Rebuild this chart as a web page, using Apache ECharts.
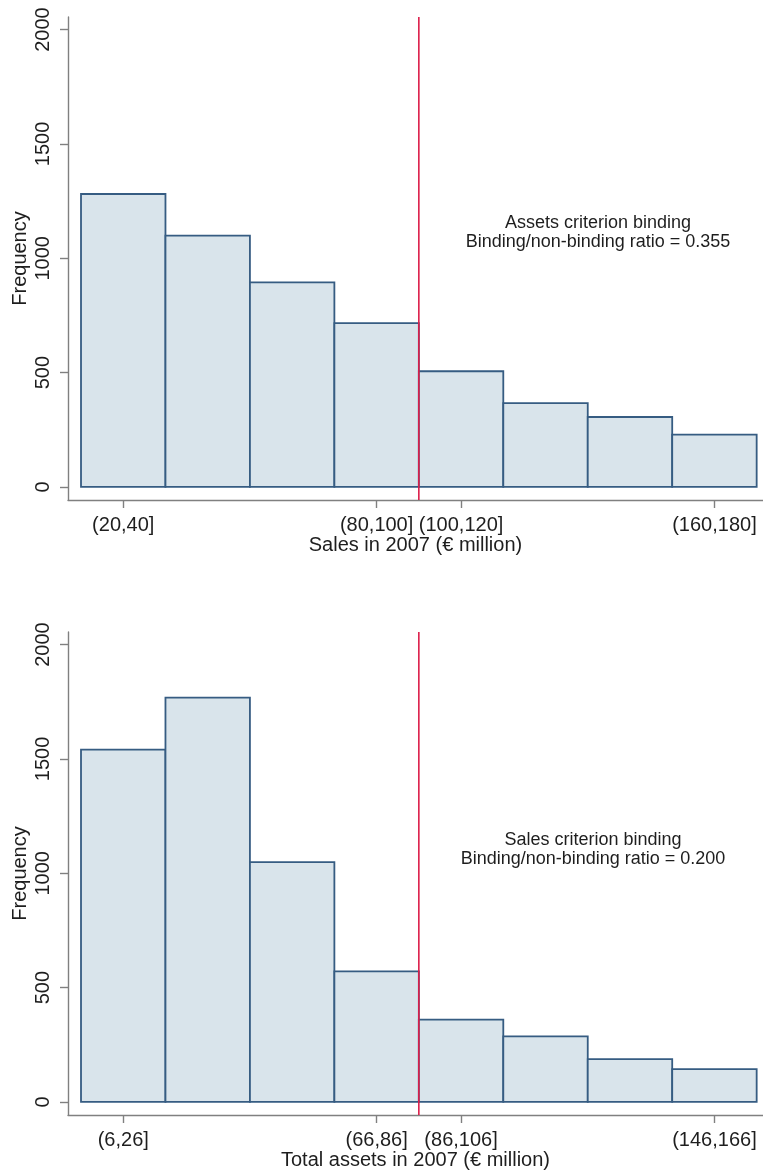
<!DOCTYPE html>
<html>
<head>
<meta charset="utf-8">
<script src="https://cdn.jsdelivr.net/npm/echarts@6/dist/echarts.min.js"></script>
<style>
  html, body { margin: 0; padding: 0; background: #ffffff; }
  #chart { width: 763px; height: 1171px; }
</style>
</head>
<body>
<div id="chart"></div>
<script>
// Histogram bins (20-unit wide) and frequencies for the two panels
const salesBins = ['(20,40]', '(40,60]', '(60,80]', '(80,100]', '(100,120]', '(120,140]', '(140,160]', '(160,180]'];
const salesFreq = [1281, 1099, 895, 716, 506, 367, 306, 229];

const assetsBins = ['(6,26]', '(26,46]', '(46,66]', '(66,86]', '(86,106]', '(106,126]', '(126,146]', '(146,166]'];
const assetsFreq = [1541, 1768, 1049, 571, 360, 287, 187, 144];

// Bins whose labels are printed on the x axis
const labelledBins = [0, 3, 4, 7];
// Frequency ticks
const yTicks = [0, 500, 1000, 1500, 2000];
// Threshold sits on the edge between the 4th and 5th bins
const thresholdEdge = 4;

const salesNote = ['Assets criterion binding', 'Binding/non-binding ratio = 0.355'];
const assetsNote = ['Sales criterion binding', 'Binding/non-binding ratio = 0.200'];

const FONT = 'Liberation Sans, Arial, sans-serif';
const TEXT = '#1e1e1e';
const AXIS = '#808080';
const FILL = '#d9e4eb';
const EDGE = '#365c82';
const RED = '#dc1e4a';

const X_MIN = -0.154, X_MAX = 8.075;
const Y_MIN = -57, Y_MAX = 2055;

function xAxisFor(gridIndex, bins, title) {
  const tickVals = labelledBins.map(i => i + 0.5);
  return {
    type: 'value', gridIndex, min: X_MIN, max: X_MAX,
    axisLine: { onZero: false, lineStyle: { color: AXIS, width: 1.4 } },
    axisTick: { customValues: tickVals, length: 8, lineStyle: { color: AXIS, width: 1.4 } },
    axisLabel: {
      customValues: tickVals, margin: 15, fontSize: 20, fontFamily: FONT, color: TEXT,
      formatter: v => bins[Math.round(v - 0.5)]
    },
    splitLine: { show: false },
    name: title, nameLocation: 'middle', nameGap: 35, nameMoveOverlap: false,
    nameTextStyle: { fontSize: 20, fontFamily: FONT, color: TEXT }
  };
}

function yAxisFor(gridIndex) {
  return {
    type: 'value', gridIndex, min: Y_MIN, max: Y_MAX,
    axisLine: { show: true, onZero: false, lineStyle: { color: AXIS, width: 1.4 } },
    axisTick: { show: true, customValues: yTicks, length: 8, lineStyle: { color: AXIS, width: 1.4 } },
    axisLabel: {
      customValues: yTicks, rotate: 90, margin: 15, fontSize: 20, fontFamily: FONT, color: TEXT,
      formatter: v => String(v)
    },
    splitLine: { show: false },
    name: 'Frequency', nameLocation: 'middle', nameGap: 38, nameMoveOverlap: false,
    nameTextStyle: { fontSize: 20, fontFamily: FONT, color: TEXT }
  };
}

function histogramSeries(idx, freq) {
  return {
    type: 'custom', xAxisIndex: idx, yAxisIndex: idx,
    data: freq.map((f, i) => [i, f]),
    encode: { x: 0, y: 1 },
    renderItem: (params, api) => {
      const i = api.value(0);
      const p0 = api.coord([i, 0]);
      const p1 = api.coord([i + 1, api.value(1)]);
      return {
        type: 'rect',
        shape: { x: p0[0], y: p1[1], width: p1[0] - p0[0], height: p0[1] - p1[1] },
        style: { fill: FILL, stroke: EDGE, lineWidth: 1.8 }
      };
    },
    z: 2
  };
}

function thresholdSeries(idx) {
  return {
    type: 'line', xAxisIndex: idx, yAxisIndex: idx,
    data: [[thresholdEdge, Y_MIN], [thresholdEdge, Y_MAX]],
    symbol: 'none', silent: true,
    lineStyle: { color: RED, width: 1.6 }, z: 5
  };
}

function note(lines, cx, cy) {
  return {
    type: 'text', x: cx, y: cy, z: 10,
    style: {
      text: lines.join('\n'), fill: TEXT, font: '18px ' + FONT,
      align: 'center', verticalAlign: 'middle', lineHeight: 19
    }
  };
}

const chart = echarts.init(document.getElementById('chart'), null, { renderer: 'canvas' });
chart.setOption({
  animation: false,
  backgroundColor: '#ffffff',
  grid: [
    { left: 68, top: 17, width: 695, height: 483, containLabel: false, outerBoundsMode: 'none' },
    { left: 68, top: 632, width: 695, height: 483, containLabel: false, outerBoundsMode: 'none' }
  ],
  xAxis: [
    xAxisFor(0, salesBins, 'Sales in 2007 (€ million)'),
    xAxisFor(1, assetsBins, 'Total assets in 2007 (€ million)')
  ],
  yAxis: [yAxisFor(0), yAxisFor(1)],
  series: [
    histogramSeries(0, salesFreq),
    thresholdSeries(0),
    histogramSeries(1, assetsFreq),
    thresholdSeries(1)
  ],
  graphic: [
    note(salesNote, 598, 233),
    note(assetsNote, 593, 850)
  ]
});
</script>
</body>
</html>
